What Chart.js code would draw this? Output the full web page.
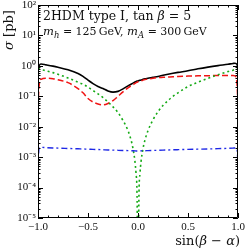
<!DOCTYPE html>
<html>
<head>
<meta charset="utf-8">
<script src="https://cdn.jsdelivr.net/npm/chart.js@4.4.1/dist/chart.umd.min.js"></script>
<style>
body{margin:0;background:#fff;}
#wrap{width:249px;height:250px;}
</style>
</head>
<body>
<div id="wrap"><canvas id="chart"></canvas></div>
<script>
// sin(beta-alpha) sample points
const sinBA = [-1, -0.99, -0.97, -0.92, -0.85, -0.8, -0.7, -0.6, -0.55, -0.5, -0.45, -0.4, -0.35, -0.3, -0.25, -0.2, -0.15, -0.1, -0.07, -0.05, -0.03, -0.02, -0.01, 0,
  0.01, 0.02, 0.03, 0.05, 0.07, 0.1, 0.15, 0.2, 0.25, 0.3, 0.35, 0.4, 0.5, 0.6, 0.7, 0.8, 0.9, 0.95, 0.97, 0.99, 1];

// sigma [pb], one array per curve
const sigmaSolid = [0.8, 1.0, 1.15, 1.08, 0.98, 0.9, 0.74, 0.56, 0.45, 0.34, 0.26, 0.21, 0.18, 0.15, 0.137, 0.145, 0.175, 0.22, 0.25, 0.27, 0.295, 0.305, 0.315, 0.32,
  0.33, 0.335, 0.34, 0.36, 0.375, 0.39, 0.42, 0.45, 0.49, 0.53, 0.57, 0.61, 0.69, 0.8, 0.91, 1.02, 1.13, 1.2, 1.22, 1.12, 0.85];
const sigmaDashed = [0.045, 0.2, 0.36, 0.39, 0.38, 0.35, 0.28, 0.18, 0.13, 0.085, 0.065, 0.056, 0.052, 0.058, 0.072, 0.1, 0.14, 0.19, 0.22, 0.24, 0.265, 0.28, 0.29, 0.3,
  0.31, 0.315, 0.32, 0.34, 0.355, 0.37, 0.39, 0.41, 0.42, 0.43, 0.44, 0.445, 0.46, 0.47, 0.475, 0.48, 0.48, 0.48, 0.47, 0.25, 0.05];
const sigmaDotted = [0.82, 0.8, 0.76, 0.69, 0.6, 0.53, 0.4, 0.29, 0.25, 0.2, 0.155, 0.12, 0.09, 0.065, 0.045, 0.029, 0.016, 0.0075, 0.0037, 0.0019, 0.0007, 0.0003, 0.00007, 0.0000001,
  0.00007, 0.0003, 0.0007, 0.0019, 0.0037, 0.0075, 0.017, 0.031, 0.05, 0.072, 0.1, 0.13, 0.21, 0.29, 0.39, 0.51, 0.65, 0.72, 0.76, 0.8, 0.82];
const sigmaDashDot = [0.00045, 0.0019, 0.0021, 0.00205, 0.002, 0.00198, 0.00193, 0.00188, 0.00185, 0.00183, 0.0018, 0.00178, 0.00175, 0.00172, 0.0017, 0.00168, 0.00166, 0.00164, 0.00163, 0.00162, 0.00161, 0.0016, 0.0016, 0.0016,
  0.0016, 0.0016, 0.00161, 0.00162, 0.00163, 0.00164, 0.00166, 0.00168, 0.0017, 0.00172, 0.00174, 0.00176, 0.0018, 0.00183, 0.00186, 0.0019, 0.00195, 0.00198, 0.002, 0.0019, 0.00055];

const yTickValues = [1e-5, 1e-4, 1e-3, 1e-2, 1e-1, 1e0, 1e1, 1e2];
const yTickLabels = ['10⁻⁵', '10⁻⁴', '10⁻³', '10⁻²', '10⁻¹', '10⁰', '10¹', '10²'];
const xTickValues = [-1, -0.5, 0, 0.5, 1];
const xTickLabels = ['−1.0', '−0.5', '0.0', '0.5', '1.0'];

function pts(ys){
	return sinBA.map((x, i) => ({x: x, y: ys[i]}));
}

// draws pieces of text with different fonts one after another
function rich(ctx, x, y, parts){
	for(const p of parts){
		ctx.font = p.f;
		ctx.fillText(p.t, x, y + (p.dy || 0));
		x += ctx.measureText(p.t).width;
	}
}
function richWidth(ctx, parts){
	let w = 0;
	for(const p of parts){ ctx.font = p.f; w += ctx.measureText(p.t).width; }
	return w;
}

const SER = '"DejaVu Serif"';
const frame = {
	id: 'frame',
	afterDraw(chart){
		const ctx = chart.ctx, a = chart.chartArea, x = chart.scales.x, y = chart.scales.y;
		ctx.save();
		ctx.setLineDash([]);
		ctx.globalAlpha = 1;
		ctx.strokeStyle = '#000';
		ctx.lineWidth = 1;
		ctx.beginPath();
		ctx.rect(a.left + 0.5, a.top + 0.5, a.right - a.left - 1, a.bottom - a.top - 1);
		for(let i = -10; i <= 10; i++){
			const px = Math.round(x.getPixelForValue(i / 10)) + 0.5;
			const len = (i % 5 === 0) ? 5 : 2.5;
			ctx.moveTo(px, a.bottom); ctx.lineTo(px, a.bottom - len);
			ctx.moveTo(px, a.top); ctx.lineTo(px, a.top + len);
		}
		for(let e = -5; e <= 2; e++){
			for(let m = 1; m < 10; m++){
				if(e === 2 && m > 1) break;
				const py = Math.round(y.getPixelForValue(m * Math.pow(10, e))) + 0.5;
				const len = (m === 1) ? 5 : 2.5;
				ctx.moveTo(a.left, py); ctx.lineTo(a.left + len, py);
				ctx.moveTo(a.right, py); ctx.lineTo(a.right - len, py);
			}
		}
		ctx.stroke();

		ctx.fillStyle = '#111';
		ctx.textBaseline = 'alphabetic';
		ctx.textAlign = 'left';
		const fr = '12.5px ' + SER, fi = 'italic 12.5px ' + SER;
		rich(ctx, a.left + 5, 19.5, [{t: '2HDM type I, tan ', f: fr}, {t: 'β', f: fi}, {t: ' = 5', f: fr}]);
		const gr = '11px ' + SER, gi = 'italic 11.5px ' + SER, gs = 'italic 8.5px ' + SER;
		rich(ctx, a.left + 5, 35, [{t: 'm', f: gi}, {t: 'h', f: gs, dy: 2.5}, {t: ' = 125\u2009GeV, ', f: gr},
			{t: 'm', f: gi}, {t: 'A', f: gs, dy: 2.5}, {t: ' = 300\u2009GeV', f: gr}]);

		// x axis title
		const xt = [{t: 'sin(', f: '13px ' + SER}, {t: 'β', f: 'italic 13px ' + SER}, {t: ' − ', f: '13px ' + SER},
			{t: 'α', f: 'italic 13px ' + SER}, {t: ')', f: '13px ' + SER}];
		rich(ctx, 240 - richWidth(ctx, xt), 245, xt);

		// y axis title
		const yt = [{t: 'σ', f: 'italic 13px ' + SER}, {t: ' [pb]', f: '13px ' + SER}];
		ctx.translate(13, 30);
		ctx.rotate(-Math.PI / 2);
		rich(ctx, -richWidth(ctx, yt) / 2, 0, yt);
		ctx.restore();
	}
};

const ctx = document.querySelector('#chart');
const chart = new Chart(ctx, {
	type: 'line',
	data: {
		datasets: [{
			data: pts(sigmaDashDot),
			borderColor: 'rgb(30,40,230)',
			borderWidth: 1.4,
			borderDash: [6, 3, 2, 3]
		}, {
			data: pts(sigmaDotted),
			borderColor: 'rgb(20,170,20)',
			borderWidth: 1.6,
			borderDash: [2, 3]
		}, {
			data: pts(sigmaDashed),
			borderColor: 'rgb(240,20,20)',
			borderWidth: 1.5,
			borderDash: [6, 3]
		}, {
			data: pts(sigmaSolid),
			borderColor: '#000',
			borderWidth: 1.6
		}]
	},
	options: {
		responsive: true,
		maintainAspectRatio: false,
		animation: false,
		devicePixelRatio: 1,
		layout: {padding: {top: 5, right: 11, left: 0, bottom: 0}},
		elements: {point: {radius: 0}, line: {cubicInterpolationMode: 'monotone'}},
		plugins: {legend: {display: false}, tooltip: {enabled: false}},
		scales: {
			x: {
				type: 'linear',
				min: -1, max: 1,
				grid: {display: false, drawTicks: false, tickLength: 0},
				border: {display: false},
				afterBuildTicks: (s) => { s.ticks = xTickValues.map(v => ({value: v})); },
				afterFit: (s) => { s.height = 32; },
				ticks: {
					autoSkip: false, maxRotation: 0, padding: 3,
					color: '#111',
					font: {family: 'Liberation Serif', size: 11},
					callback: (v, i) => xTickLabels[i]
				}
			},
			y: {
				type: 'logarithmic',
				min: 1e-5, max: 100,
				grid: {display: false, drawTicks: false, tickLength: 0},
				border: {display: false},
				afterBuildTicks: (s) => { s.ticks = yTickValues.map(v => ({value: v})); },
				afterFit: (s) => { s.width = 38; s.paddingTop = 0; s.paddingBottom = 0; },
				ticks: {
					autoSkip: false, padding: 2,
					color: '#111',
					font: {family: 'Liberation Serif', size: 11},
					callback: (v, i) => yTickLabels[i]
				}
			}
		}
	},
	plugins: [frame]
});
</script>
</body>
</html>
